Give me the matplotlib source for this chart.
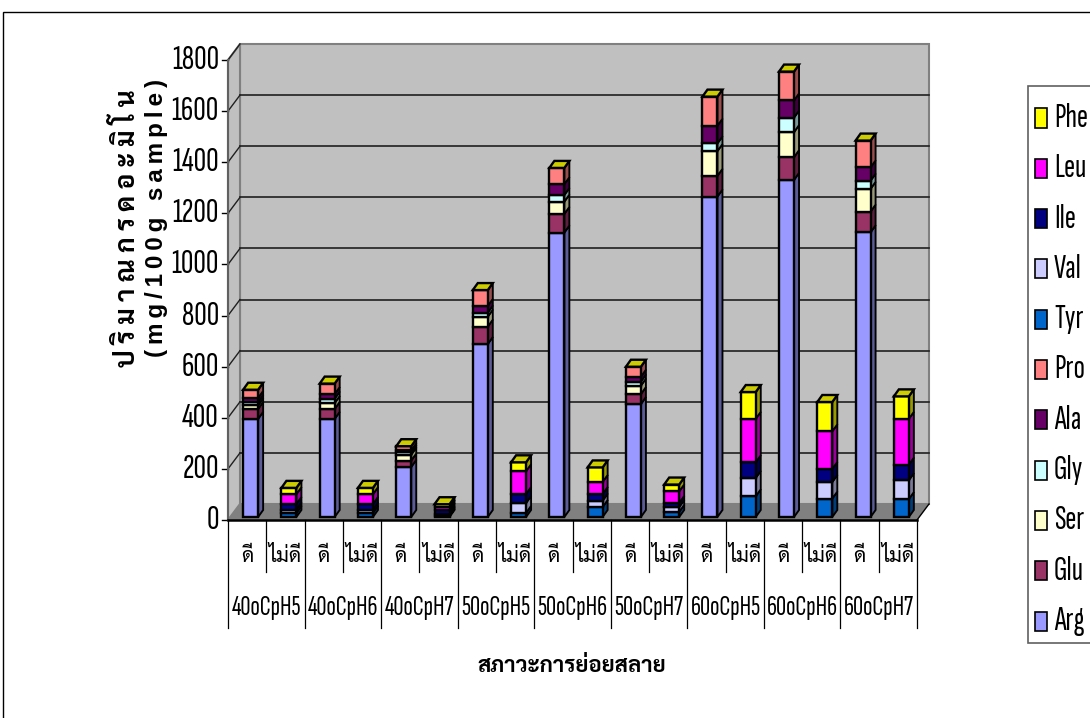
import matplotlib
matplotlib.use("Agg")
import matplotlib.pyplot as plt
from matplotlib.patches import Polygon, Rectangle

# narrow faces first, plain ones as fallback
NARROW = ["Sofia Sans Extra Condensed", "Pathway Gothic One", "Archivo Narrow", "Liberation Sans"]
THAI = ["Sarabun", "Noto Sans Thai", "Loma", "DejaVu Sans"]

quality = ["ดี", "ไม่ดี"]
conditions = ["40oCpH5", "40oCpH6", "40oCpH7", "50oCpH5", "50oCpH6", "50oCpH7",
              "60oCpH5", "60oCpH6", "60oCpH7"]

# mg per 100 g sample, one entry per ดี / ไม่ดี pair
Arg = [384, 0, 384, 0, 196, 0, 677, 0, 1113, 0, 442, 0, 1254, 0, 1319, 0, 1114, 0]
Glu = [39, 0, 39, 0, 25, 0, 68, 0, 73, 0, 39, 0, 81, 0, 89, 0, 81, 0]
Ser = [14, 0, 23, 0, 23, 0, 39, 0, 48, 0, 33, 0, 97, 0, 98, 0, 89, 0]
Gly = [13, 0, 17, 0, 10, 0, 16, 0, 26, 0, 16, 0, 30, 0, 57, 0, 32, 0]
Ala = [16, 0, 18, 0, 7, 0, 26, 0, 42, 0, 19, 0, 69, 0, 67, 0, 52, 0]
Pro = [32, 0, 41, 0, 16, 0, 62, 0, 64, 0, 39, 0, 114, 0, 113, 0, 105, 0]
Tyr = [0, 16, 0, 16, 0, 5, 0, 16, 0, 39, 0, 20, 0, 81, 0, 72, 0, 70]
Val = [0, 13, 0, 13, 0, 8, 0, 39, 0, 25, 0, 19, 0, 72, 0, 65, 0, 74]
Ile = [0, 22, 0, 22, 0, 13, 0, 35, 0, 26, 0, 16, 0, 61, 0, 51, 0, 61]
Leu = [0, 38, 0, 38, 0, 12, 0, 89, 0, 47, 0, 45, 0, 170, 0, 147, 0, 179]
Phe = [0, 25, 0, 25, 0, 12, 0, 35, 0, 57, 0, 27, 0, 105, 0, 115, 0, 88]

names = ["Arg", "Glu", "Ser", "Gly", "Ala", "Pro", "Tyr", "Val", "Ile", "Leu", "Phe"]
series = [Arg, Glu, Ser, Gly, Ala, Pro, Tyr, Val, Ile, Leu, Phe]
colors = ["#9999FF", "#993366", "#FFFFCC", "#CCFFFF", "#660066", "#FF8080",
          "#0066CC", "#CCCCFF", "#000080", "#FF00FF", "#FFFF00"]


def shade(color, k):
    rgb = matplotlib.colors.to_rgb(color)
    return tuple(c * k for c in rgb)


fig = plt.figure(figsize=(10.9, 7.18), dpi=100)
W, H = 1090.0, 718.0
ax = fig.add_axes([228 / W, 1 - 520 / H, 689 / W, 460 / H])
ax.set_xlim(0, 18)
ax.set_ylim(0, 1800)
ax.axis("off")

# pixels to data units
px = 18 / 689.0
py = 1800 / 460.0
wall_dx, wall_dy = 12 * px, 16 * py
LW = 1.7

# outer frame of the chart area
fig.add_artist(Rectangle((3 / W, -0.01), 1.1, 1 - 12 / H + 0.01, transform=fig.transFigure,
                         fill=False, ec="black", lw=1.0))

# back wall, side wall and floor
ax.add_patch(Polygon([(wall_dx, wall_dy), (18 + wall_dx, wall_dy), (18 + wall_dx, 1800 + wall_dy),
                      (wall_dx, 1800 + wall_dy)], fc="#C0C0C0", ec="#808080", lw=1.5,
                     clip_on=False, zorder=1))
ax.add_patch(Polygon([(0, 0), (wall_dx, wall_dy), (wall_dx, 1800 + wall_dy), (0, 1800)],
                     fc="#C0C0C0", ec="#808080", lw=1.5, clip_on=False, zorder=1))
ax.add_patch(Polygon([(0, 0), (18, 0), (18 + wall_dx, wall_dy), (wall_dx, wall_dy)],
                     fc="#808080", ec="none", clip_on=False, zorder=1))
ax.plot([18, 18 + wall_dx], [0, wall_dy], color="black", lw=1.0, clip_on=False, zorder=1)

ticks = list(range(0, 2000, 200))
for t in ticks:
    if t > 0 and t < 1800:
        ax.plot([wall_dx, 18 + wall_dx], [t + wall_dy, t + wall_dy], color="#202020", lw=1.2,
                clip_on=False, zorder=1.5)
    if t > 0:
        ax.plot([0, wall_dx], [t, t + wall_dy], color="#202020", lw=1.0, clip_on=False, zorder=1.5)
    ax.plot([-6 * px, 0], [t, t], color="black", lw=1.0, clip_on=False)
    ax.text(-9 * px, t, str(t), ha="right", va="center", family=NARROW, fontsize=25,
            color="black", clip_on=False)
ax.plot([0, 0], [0, 1800], color="#606060", lw=1.5, clip_on=False, zorder=2)
ax.plot([0, 18], [0, 0], color="black", lw=1.8, clip_on=False, zorder=2)

# stacked 3-D columns, back to front order does not matter since they never overlap
bar_w = 15 * px
bar_dx, bar_dy = 5 * px, 7 * py
shift_x, shift_y = 3.5 * px, 3 * py
for i in range(18):
    x0 = i + 0.5 - bar_w / 2 + shift_x
    x1 = x0 + bar_w
    base = shift_y
    for vals, col in zip(series, colors):
        v = vals[i]
        if v == 0:
            continue
        ax.bar(x0, v, width=bar_w, bottom=base, align="edge", color=col, edgecolor="black",
               linewidth=LW, zorder=4, clip_on=False)
        ax.add_patch(Polygon([(x1, base), (x1 + bar_dx, base + bar_dy),
                              (x1 + bar_dx, base + v + bar_dy), (x1, base + v)],
                             fc=shade(col, 0.6), ec="black", lw=LW * 0.8, clip_on=False, zorder=3))
        base += v
    # the lid always takes the shade of the top series
    ax.add_patch(Polygon([(x0, base), (x1, base), (x1 + bar_dx, base + bar_dy),
                          (x0 + bar_dx, base + bar_dy)],
                         fc=shade(colors[-1], 0.8), ec="black", lw=LW, clip_on=False, zorder=4))

# two-level category axis under the floor
row1_y = -36 * py
row2_y = -88 * py
for i in range(18):
    ax.text(i + 0.5, row1_y, quality[i % 2], ha="center", va="center", family=THAI, fontsize=15,
            clip_on=False)
    if i % 2 == 1:
        ax.plot([i, i], [0, -52 * py], color="black", lw=0.9, clip_on=False)
for g, label in enumerate(conditions):
    ax.text(2 * g + 1, row2_y, label, ha="center", va="center", family=NARROW, fontsize=20,
            clip_on=False)
for g in range(10):
    ax.plot([2 * g, 2 * g], [0, -108 * py], color="black", lw=0.9, clip_on=False)

ax.text(344 * px, -147 * py, "สภาวะการย่อยสลาย", ha="center", va="center", family=THAI,
        fontsize=16, fontweight="bold", clip_on=False)

# spaced-out value axis title, drawn on two rotated lines
fig.text(127 / W, 1 - 228 / H, "ป ริ ม า ณ ก ร ด อ ะ มิ โ น", rotation=90, ha="center", va="center",
         family=THAI, fontsize=19, fontweight="bold")
fig.text(156 / W, 1 - 218 / H, "\u2009".join("(mg/100g sample)"), rotation=90, ha="center",
         va="center", family=["Liberation Sans", "DejaVu Sans"], fontsize=17.5, fontweight="bold")

# legend box runs off the right edge, top series first
fig.add_artist(Rectangle((1028 / W, 1 - 643 / H), 80 / W, 557 / H, transform=fig.transFigure,
                         fc="white", ec="#606060", lw=1.2))
for k, (name, col) in enumerate(zip(names[::-1], colors[::-1])):
    cy = 118 + 50.3 * k
    fig.add_artist(Rectangle((1035 / W, 1 - (cy + 9.5) / H), 11.5 / W, 19 / H,
                             transform=fig.transFigure, fc=col, ec="black", lw=1.2))
    fig.text(1054 / W, 1 - cy / H, name, ha="left", va="center", family=NARROW, fontsize=24)

fig.savefig("out.png", dpi=100)
